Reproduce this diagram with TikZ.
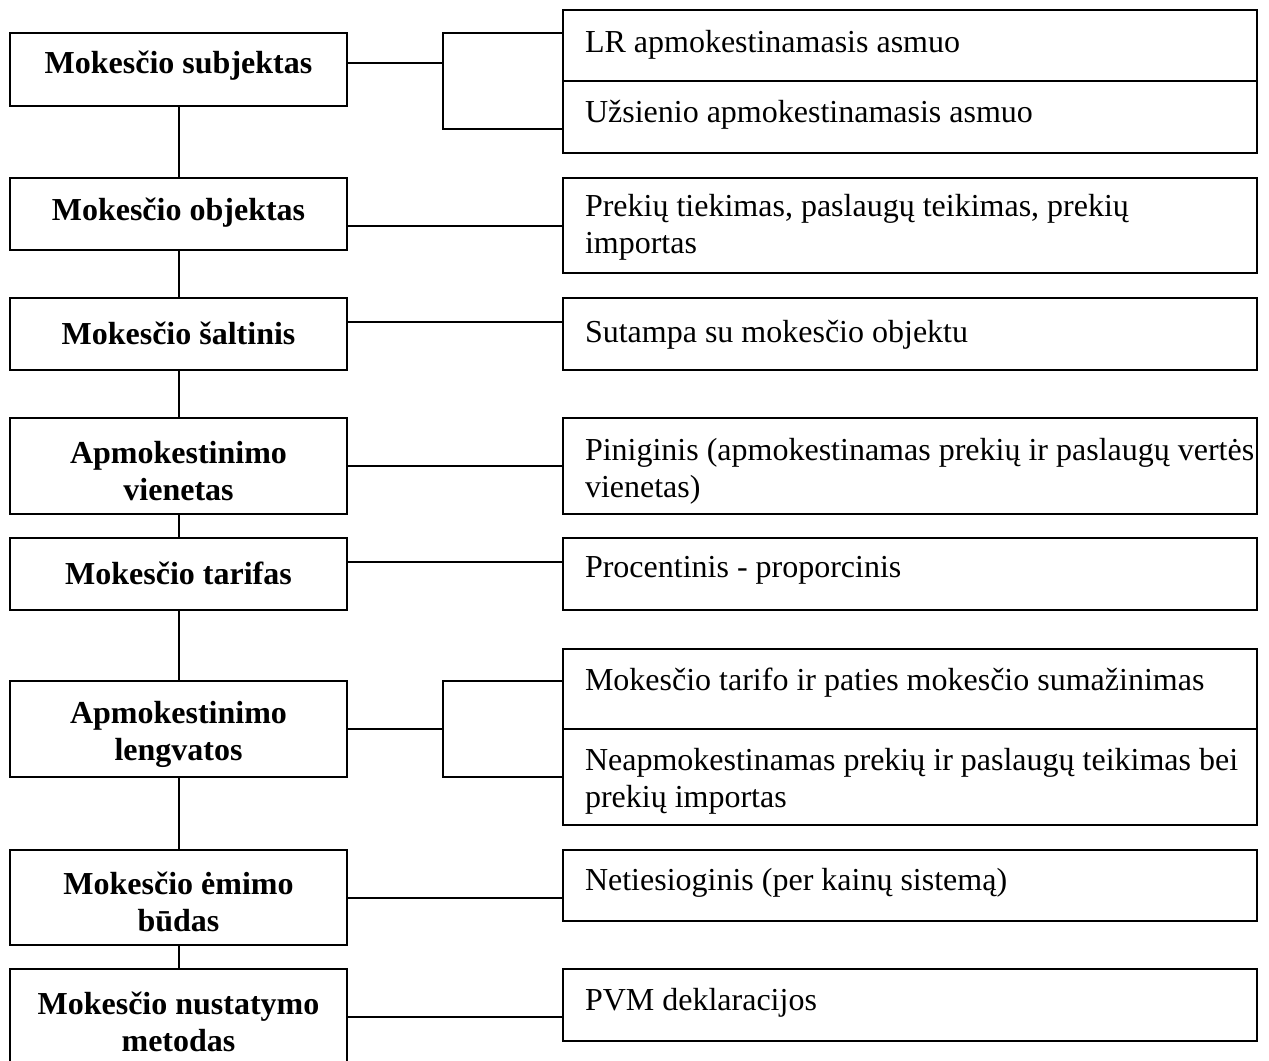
\documentclass[tikz,border=0pt]{standalone}
\usepackage{fontspec}
\setmainfont{Liberation Serif}
\begin{document}
\begin{tikzpicture}[x=0.375pt, y=-0.375pt, line width=0.75pt,
  lbox/.style={draw, minimum width=337*0.375pt, minimum height=#1*0.375pt, inner sep=0pt},
  rbox/.style={draw, minimum width=694*0.375pt, minimum height=#1*0.375pt, inner sep=0pt},
  ltext/.style={inner sep=0pt, align=center, yshift=-3*0.375pt, font=\fontsize{12}{13.9}\selectfont\bfseries},
  rtext/.style={inner sep=0pt, anchor=west, align=left, yshift=-3*0.375pt, font=\fontsize{12}{13.9}\selectfont}]
% page frame
\fill[white] (0,0) rectangle (1269,1061);
\useasboundingbox (0,0) rectangle (1269,1061);
\clip (0,0) rectangle (1269,1061);

% left column: tax elements
\node[lbox=73] (L1) at (178.5,69.5) {};
\node[lbox=72] (L2) at (178.5,214) {};
\node[lbox=72] (L3) at (178.5,334) {};
\node[lbox=96] (L4) at (178.5,466) {};
\node[lbox=72] (L5) at (178.5,574) {};
\node[lbox=96] (L6) at (178.5,729) {};
\node[lbox=95] (L7) at (178.5,897.5) {};
\node[lbox=97] (L8) at (178.5,1017.5) {};

\node[ltext] (tL1) at (178.5,63) {Mokesčio subjektas};
\node[ltext] (tL2) at (178.5,210) {Mokesčio objektas};
\node[ltext] (tL3) at (178.5,330) {Mokesčio šaltinis};
\node[ltext] (tL4) at (178.5,468) {Apmokestinimo\\vienetas};
\node[ltext] (tL5) at (178.5,570) {Mokesčio tarifas};
\node[ltext] (tL6) at (178.5,731.5) {Apmokestinimo\\lengvatos};
\node[ltext] (tL7) at (178.5,899) {Mokesčio ėmimo\\būdas};
\node[ltext] (tL8) at (178.5,1018.5) {Mokesčio nustatymo\\metodas};

% right column: their content for VAT
\node[rbox=71] (R1a) at (910,45.5) {};
\node[rbox=72] (R1b) at (910,117) {};
\node[rbox=95] (R2) at (910,225.5) {};
\node[rbox=72] (R3) at (910,334) {};
\node[rbox=96] (R4) at (910,466) {};
\node[rbox=72] (R5) at (910,574) {};
\node[rbox=80] (R6a) at (910,689) {};
\node[rbox=96] (R6b) at (910,777) {};
\node[rbox=71] (R7) at (910,885.5) {};
\node[rbox=72] (R8) at (910,1005) {};

\node[rtext] (tR1a) at (584,42) {LR apmokestinamasis asmuo};
\node[rtext] (tR1b) at (584,112) {Užsienio apmokestinamasis asmuo};
\node[rtext] (tR2) at (584,224) {Prekių tiekimas, paslaugų teikimas, prekių\\importas};
\node[rtext] (tR3) at (584,332) {Sutampa su mokesčio objektu};
\node[rtext] (tR4) at (584,468) {Piniginis (apmokestinamas prekių ir paslaugų vertės\\vienetas)};
\node[rtext] (tR5) at (584,567) {Procentinis - proporcinis};
\node[rtext] (tR6a) at (584,680) {Mokesčio tarifo ir paties mokesčio sumažinimas};
\node[rtext] (tR6b) at (584,778) {Neapmokestinamas prekių ir paslaugų teikimas bei\\prekių importas};
\node[rtext] (tR7) at (584,880) {Netiesioginis (per kainų sistemą)};
\node[rtext] (tR8) at (584,1000) {PVM deklaracijos};

% vertical spine
\draw (L1) -- (L2);
\draw (L2) -- (L3);
\draw (L3) -- (L4);
\draw (L4) -- (L5);
\draw (L5) -- (L6);
\draw (L6) -- (L7);
\draw (L7) -- (L8);

% connector rows
\coordinate (k1) at (443,63);
\coordinate (b1t) at (443,33);
\coordinate (b1b) at (443,129);
\coordinate (k2) at (0,226);
\coordinate (k3) at (0,322);
\coordinate (k4) at (0,466);
\coordinate (k5) at (0,562);
\coordinate (k6) at (443,729);
\coordinate (b6t) at (443,681);
\coordinate (b6b) at (443,777);
\coordinate (k7) at (0,898);
\coordinate (k8) at (0,1017);

\draw (L1.east |- k1) -- (k1);
\draw (R1a.west |- b1t) -- (b1t) -- (b1b) -- (R1b.west |- b1b);
\draw (L2.east |- k2) -- (R2.west |- k2);
\draw (L3.east |- k3) -- (R3.west |- k3);
\draw (L4.east |- k4) -- (R4.west |- k4);
\draw (L5.east |- k5) -- (R5.west |- k5);
\draw (L6.east |- k6) -- (k6);
\draw (R6a.west |- b6t) -- (b6t) -- (b6b) -- (R6b.west |- b6b);
\draw (L7.east |- k7) -- (R7.west |- k7);
\draw (L8.east |- k8) -- (R8.west |- k8);
\end{tikzpicture}
\end{document}
